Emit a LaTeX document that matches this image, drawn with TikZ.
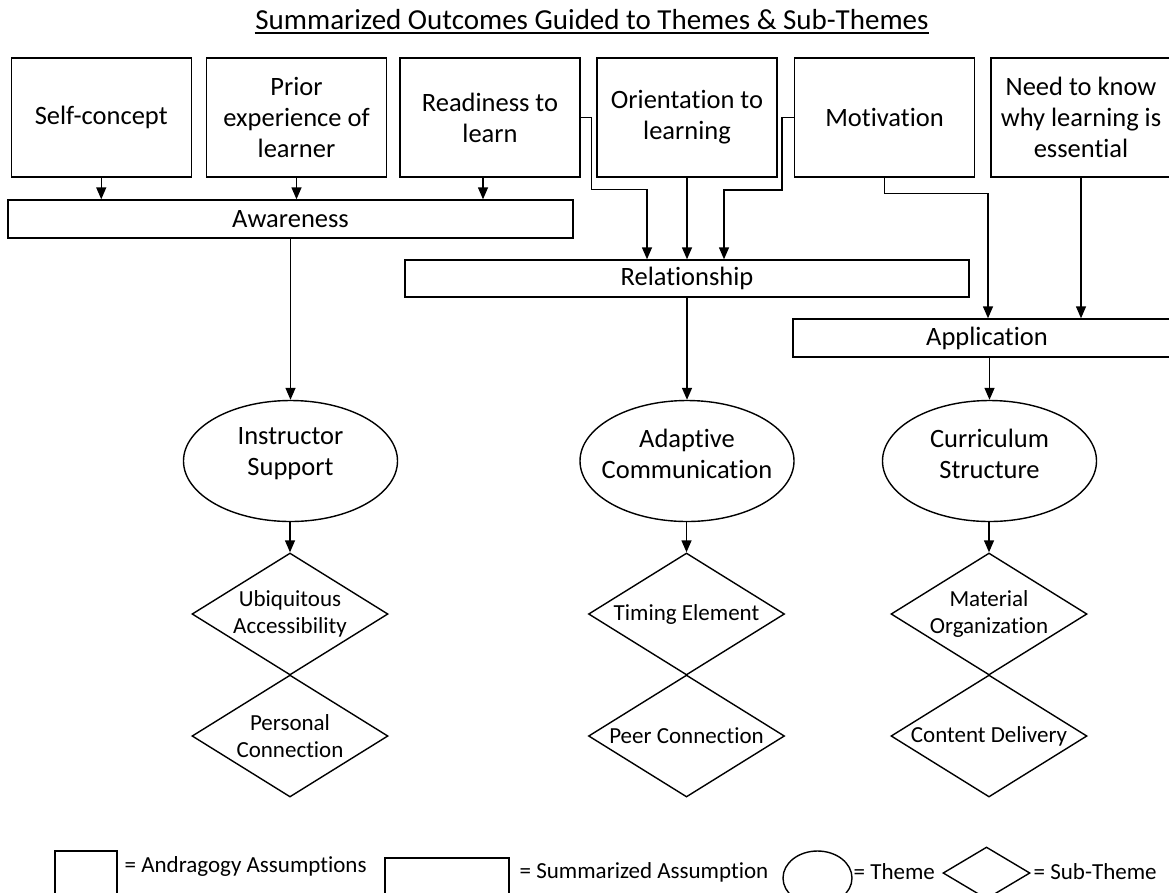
\documentclass[tikz,border=0pt]{standalone}
\usepackage{fontspec}
\setmainfont{Carlito}[Ligatures=NoCommon]
\usetikzlibrary{shapes.geometric,arrows.meta}

\newcommand\bigtxt{\fontsize{26.5}{31}\selectfont}
\newcommand\subtxt{\fontsize{23}{27}\selectfont}

\begin{document}
\begin{tikzpicture}[x=1pt,y=-1pt,
  line width=1.4pt,
  assume/.style={draw, rectangle, minimum width=180pt, minimum height=119pt,
    inner sep=2pt, align=center, font=\bigtxt},
  summary/.style={draw, rectangle, minimum height=38pt, inner sep=0pt, font=\bigtxt},
  theme/.style={draw, ellipse, minimum width=214pt, minimum height=121pt, inner sep=0pt},
  themetext/.style={align=center, font=\bigtxt, inner sep=0pt, yshift=7pt},
  subtheme/.style={draw, diamond, minimum width=196pt, minimum height=122pt, inner sep=0pt},
  subtext/.style={align=center, font=\subtxt, inner sep=0pt},
  legtext/.style={anchor=west, inner sep=0pt, font=\subtxt},
  arr/.style={-{Triangle[length=12pt,width=10pt]}}
]
\useasboundingbox (0,0) rectangle (1169,892);
\clip (0,0) rectangle (1169,892);

% title
\node[inner sep=0pt, anchor=base, font=\fontsize{29}{34}\selectfont] (title) at (592,29)
  {Summarized Outcomes Guided to Themes \& Sub-Themes};
\draw[line width=1.3pt] ([yshift=-4pt]title.base west) -- ([yshift=-4pt]title.base east);

% andragogy assumptions
\node[assume] (self)   at (101.25,117.5) {Self-concept};
\node[assume] (prior)  at (296.5,117.5)  {Prior\\experience of\\learner};
\node[assume] (ready)  at (490,117.5)    {Readiness to\\learn};
\node[assume] (orient) at (687,117.5)    {Orientation to\\learning};
\node[assume] (motiv)  at (884.5,117.5)  {Motivation};
\node[assume] (need)   at (1081,117.5)   {Need to know\\why learning is\\essential};

% summarized assumptions
\node[summary, minimum width=565pt] (aware) at (290.5,219)  {Awareness};
\node[summary, minimum width=564pt, minimum height=37pt] (rel) at (687,278.5) {Relationship};
\node[summary, minimum width=388pt] (appl)  at (987,338)    {Application};

% themes
\node[theme, label={[themetext]center:{Instructor\\Support}}]   (th1) at (290.5,461) {};
\node[theme, label={[themetext]center:{Adaptive\\Communication}}] (th2) at (687,461) {};
\node[theme, label={[themetext]center:{Curriculum\\Structure}}]  (th3) at (989.5,461) {};

% sub-themes
\node[subtheme, label={[subtext]center:{Ubiquitous\\Accessibility}}] (s1a) at (290,614) {};
\node[subtheme, label={[subtext]center:{Personal\\Connection}}]     (s1b) at (290,736) {};
\node[subtheme, label={[subtext]center:{Timing Element}}]            (s2a) at (686.5,614) {};
\node[subtheme, label={[subtext]center:{Peer Connection}}]           (s2b) at (686.5,736) {};
\node[subtheme, label={[subtext]center:{Material\\Organization}}]   (s3a) at (989,614) {};
\node[subtheme, label={[subtext]center:{Content Delivery}}]          (s3b) at (989,736) {};

% assumptions into awareness
\draw[arr] (self.south) -- (self.south |- aware.north);
\draw[arr] (prior.south) -- (prior.south |- aware.north);
\draw[arr] ([xshift=-7pt]ready.south) -- ([xshift=-7pt]ready.south |- aware.north);

% assumptions into relationship
\draw[arr] (ready.east) -- ++(11,0) -- ++(0,72) -| ([xshift=-40pt]rel.north);
\draw[arr] (orient.south) -- (orient.south |- rel.north);
\draw[arr] (motiv.west) -- ++(-12,0) -- ++(0,72.5) -| ([xshift=37pt]rel.north);

% assumptions into application
\draw[arr] (motiv.south) -- ++(0,16) -| ([xshift=1pt]appl.north);
\draw[arr] (need.south) -- (need.south |- appl.north);

% summaries into themes
\draw[arr] (aware.south) -- (th1.north);
\draw[arr] (rel.south) -- (th2.north);
\draw[arr] (th3.north |- appl.south) -- (th3.north);

% themes into sub-themes
\draw[arr] (s1a.north |- th1.south) -- (s1a.north);
\draw[arr] (s2a.north |- th2.south) -- (s2a.north);
\draw[arr] (s3a.north |- th3.south) -- (s3a.north);

% legend
\node[draw, rectangle, minimum width=62pt, minimum height=58pt, inner sep=0pt] (lgA) at (86,880) {};
\node[legtext] (lgAt) at (124,866) {= Andragogy Assumptions};
\node[draw, rectangle, minimum width=124pt, minimum height=58pt, inner sep=0pt] (lgS) at (447,887) {};
\node[legtext] (lgSt) at (519,872) {= Summarized Assumption};
\node[draw, ellipse, minimum width=69pt, minimum height=54pt, inner sep=0pt] (lgT) at (817.5,878) {};
\node[legtext] (lgTt) at (853,872) {= Theme};
\node[draw, diamond, minimum width=87pt, minimum height=52pt, inner sep=0pt] (lgD) at (986.5,873) {};
\node[legtext] (lgDt) at (1033,872) {= Sub-Theme};
\end{tikzpicture}
\end{document}
